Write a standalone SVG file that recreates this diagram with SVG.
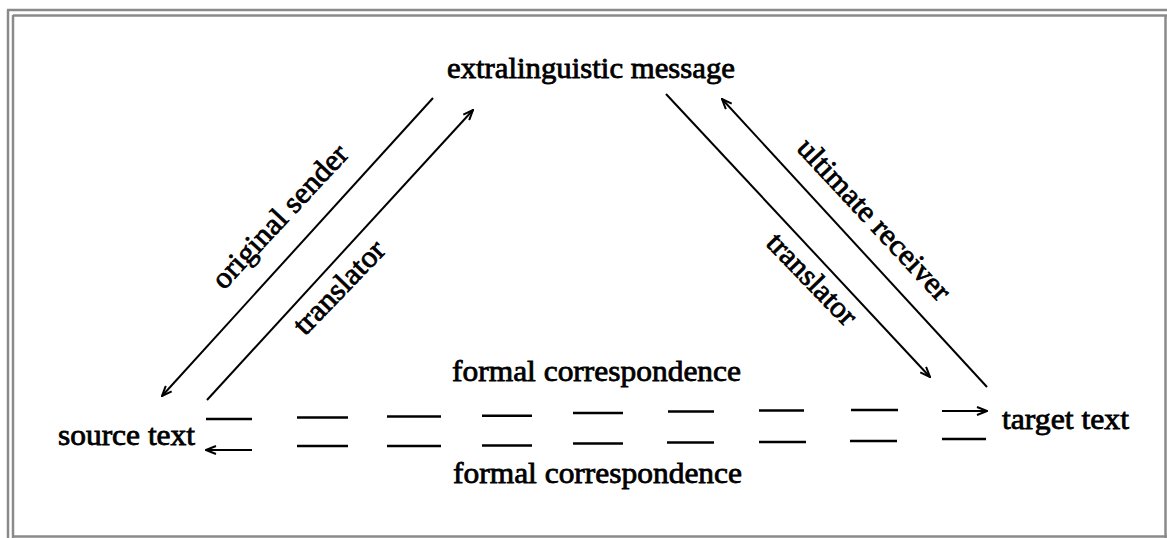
<svg xmlns="http://www.w3.org/2000/svg" width="1167" height="538" viewBox="0 0 1167 538">
<style>
  .frame { stroke: #8a8a8a; stroke-width: 2.5; fill: none; }
  .lbl { font-family: "Liberation Serif", "Times New Roman", serif; font-size: 30px; fill: #000; stroke: #000; stroke-width: 0.8; }
  .ln { stroke: #000; stroke-width: 2; fill: none; }
  .dash { stroke: #000; stroke-width: 2.6; fill: none; }
</style>
<defs>
  <marker id="ah" viewBox="0 0 12 10" refX="11" refY="5" markerWidth="12" markerHeight="10" markerUnits="userSpaceOnUse" orient="auto">
    <path d="M1,1 L11,5 L1,9" fill="none" stroke="#000" stroke-width="2"/>
  </marker>
</defs>
<rect width="1167" height="538" fill="#fff"/>
<g id="frame">
  <line class="frame" x1="7" y1="10" x2="1167" y2="10"/>
  <line class="frame" x1="8" y1="10" x2="8" y2="538"/>
  <line class="frame" x1="13" y1="15.5" x2="1167" y2="15.5"/>
  <line class="frame" x1="13" y1="15" x2="13" y2="538"/>
  <line class="frame" x1="1165.5" y1="15" x2="1165.5" y2="538"/>
  <line class="frame" x1="13" y1="536.5" x2="1167" y2="536.5"/>
</g>
<g id="node-message"><text class="lbl" x="447" y="78" textLength="288" lengthAdjust="spacingAndGlyphs">extralinguistic message</text></g>
<g id="node-source"><text class="lbl" x="58" y="445" textLength="137" lengthAdjust="spacingAndGlyphs">source text</text></g>
<g id="node-target"><text class="lbl" x="1002" y="429" textLength="127" lengthAdjust="spacingAndGlyphs">target text</text></g>
<g id="connectors">
  <line class="ln" x1="433" y1="98" x2="162" y2="396" marker-end="url(#ah)"/>
  <line class="ln" x1="207" y1="400" x2="473" y2="110" marker-end="url(#ah)"/>
  <line class="ln" x1="666" y1="94" x2="930" y2="377" marker-end="url(#ah)"/>
  <line class="ln" x1="987" y1="387" x2="722" y2="99" marker-end="url(#ah)"/>
  <g id="formal-top">
    <line class="dash" x1="206" y1="419" x2="252" y2="419"/>
    <line class="dash" x1="297" y1="417.5" x2="348" y2="417.5"/>
    <line class="dash" x1="387" y1="416.5" x2="441" y2="416.5"/>
    <line class="dash" x1="482" y1="415.7" x2="532" y2="415.7"/>
    <line class="dash" x1="573" y1="413" x2="623" y2="413"/>
    <line class="dash" x1="668" y1="411.5" x2="714" y2="411.5"/>
    <line class="dash" x1="759" y1="410.5" x2="804" y2="410.5"/>
    <line class="dash" x1="851" y1="410" x2="898" y2="410"/>
    <line class="ln" x1="942" y1="411" x2="987" y2="411" marker-end="url(#ah)"/>
  </g>
  <g id="formal-bottom">
    <line class="ln" x1="252" y1="450" x2="206" y2="450" marker-end="url(#ah)"/>
    <line class="dash" x1="297" y1="446" x2="348" y2="446"/>
    <line class="dash" x1="387" y1="446" x2="441" y2="446"/>
    <line class="dash" x1="482" y1="445.5" x2="532" y2="445.5"/>
    <line class="dash" x1="573" y1="443.5" x2="623" y2="443.5"/>
    <line class="dash" x1="667" y1="442.5" x2="714" y2="442.5"/>
    <line class="dash" x1="759" y1="442" x2="806" y2="442"/>
    <line class="dash" x1="850" y1="441" x2="897" y2="441"/>
    <line class="dash" x1="942" y1="439" x2="986" y2="439"/>
  </g>
  <text class="lbl" transform="translate(287,223) rotate(-47)" text-anchor="middle" textLength="185" lengthAdjust="spacingAndGlyphs">original sender</text>
  <text class="lbl" transform="translate(346,294) rotate(-46)" text-anchor="middle" textLength="118" lengthAdjust="spacingAndGlyphs">translator</text>
  <text class="lbl" transform="translate(867,226) rotate(47)" text-anchor="middle" textLength="210" lengthAdjust="spacingAndGlyphs">ultimate receiver</text>
  <text class="lbl" transform="translate(805,286) rotate(46)" text-anchor="middle" textLength="116" lengthAdjust="spacingAndGlyphs">translator</text>
  <text class="lbl" x="452" y="381" textLength="289" lengthAdjust="spacingAndGlyphs">formal correspondence</text>
  <text class="lbl" x="453" y="483" textLength="289" lengthAdjust="spacingAndGlyphs">formal correspondence</text>
</g>
</svg>
